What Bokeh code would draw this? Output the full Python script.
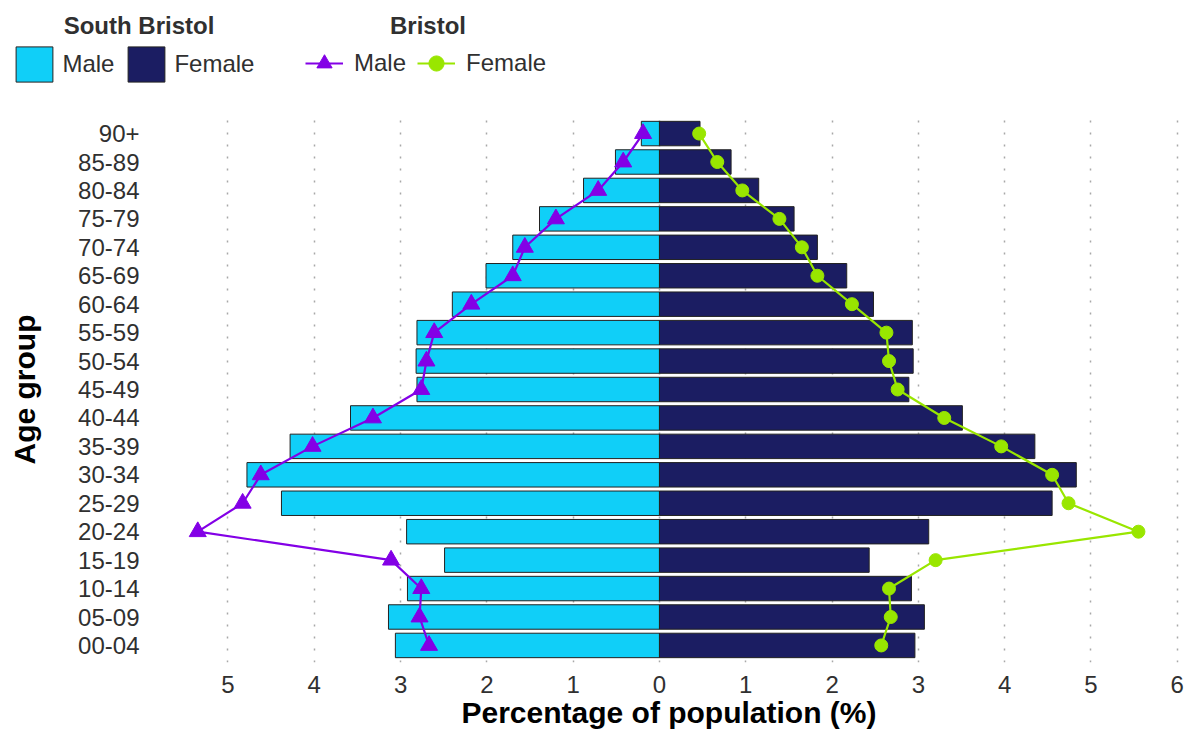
import numpy as np
from bokeh.plotting import figure
from bokeh.layouts import column
from bokeh.models import ColumnDataSource, Range1d, FixedTicker, Legend, LegendItem, Label
from bokeh.embed import file_html
from bokeh.resources import INLINE

# ---- data (bottom to top) ----
age_groups = ["00-04", "05-09", "10-14", "15-19", "20-24", "25-29", "30-34", "35-39",
              "40-44", "45-49", "50-54", "55-59", "60-64", "65-69", "70-74", "75-79",
              "80-84", "85-89", "90+"]
south_bristol_male = [3.06, 3.14, 2.92, 2.49, 2.93, 4.38, 4.78, 4.28, 3.58, 2.81,
                      2.82, 2.81, 2.40, 2.01, 1.70, 1.39, 0.88, 0.51, 0.21]
south_bristol_female = [2.96, 3.07, 2.92, 2.43, 3.12, 4.55, 4.83, 4.35, 3.51, 2.89,
                        2.94, 2.93, 2.48, 2.17, 1.83, 1.56, 1.15, 0.83, 0.47]
bristol_male = [2.67, 2.78, 2.76, 3.11, 5.35, 4.83, 4.62, 4.02, 3.32, 2.76,
                2.70, 2.61, 2.18, 1.70, 1.56, 1.20, 0.71, 0.42, 0.19]
bristol_female = [2.57, 2.68, 2.66, 3.20, 5.55, 4.74, 4.55, 3.96, 3.30, 2.76,
                  2.66, 2.63, 2.23, 1.83, 1.65, 1.39, 0.96, 0.67, 0.46]
x_ticks = [-5, -4, -3, -2, -1, 0, 1, 2, 3, 4, 5, 6]
x_tick_labels = ["5", "4", "3", "2", "1", "0", "1", "2", "3", "4", "5", "6"]

# ---- style ----
FONT = "Liberation Sans"
LIGHT = "#10CFF8"
NAVY = "#1B1D62"
PURPLE = "#8300E6"
GREEN = "#99E600"
EDGE = "#222222"
TXT = "#303030"

W = 1190
LEG_H = 116
MAIN_H = 615

ypos = list(range(1, len(age_groups) + 1))
src = ColumnDataSource(dict(
    y=ypos,
    zero=[0.0] * len(ypos),
    sbm=[-v for v in south_bristol_male],
    sbf=south_bristol_female,
    brm=[-v for v in bristol_male],
    brf=bristol_female,
))

# ---------------- main chart ----------------
p = figure(width=W, height=MAIN_H, output_backend="svg", toolbar_location=None,
           x_range=Range1d(-5.886, 6.107), y_range=Range1d(0.4, 19.6),
           min_border_left=151, min_border_right=4, min_border_top=0,
           min_border_bottom=69)
p.outline_line_color = None
p.frame_align = False

p.hbar(y="y", left="sbm", right="zero", height=0.86, source=src,
       fill_color=LIGHT, line_color=EDGE, line_width=1)
p.hbar(y="y", left="zero", right="sbf", height=0.86, source=src,
       fill_color=NAVY, line_color=EDGE, line_width=1)
p.line(x="brm", y="y", source=src, line_color=PURPLE, line_width=2.2)
p.scatter(x="brm", y="y", source=src, marker="triangle", size=17,
          fill_color=PURPLE, line_color=PURPLE)
p.line(x="brf", y="y", source=src, line_color=GREEN, line_width=2.2)
p.scatter(x="brf", y="y", source=src, marker="circle", size=13,
          fill_color=GREEN, line_color=GREEN)

p.xaxis.ticker = FixedTicker(ticks=x_ticks)
p.xaxis.major_label_overrides = {t: l for t, l in zip(x_ticks, x_tick_labels)}
p.yaxis.ticker = FixedTicker(ticks=ypos)
p.yaxis.major_label_overrides = {y: a for y, a in zip(ypos, age_groups)}
for ax in (p.xaxis, p.yaxis):
    ax.axis_line_color = None
    ax.major_tick_line_color = None
    ax.minor_tick_line_color = None
    ax.major_label_text_font = FONT
    ax.major_label_text_font_size = "24px"
    ax.major_label_text_color = TXT
    ax.axis_label_text_font = FONT
    ax.axis_label_text_font_style = "bold"
    ax.axis_label_text_font_size = "30px"
    ax.axis_label_text_color = "black"
p.xaxis.major_label_standoff = 7
p.yaxis.major_label_standoff = 6
p.xaxis.axis_label = "Percentage of population (%)"
p.xaxis.axis_label_standoff = 0
p.yaxis.axis_label = "Age group"
p.yaxis.axis_label_standoff = 34

p.xgrid.grid_line_color = "#a8a8a8"
p.xgrid.grid_line_dash = "2 10"
p.xgrid.grid_line_width = 1.5
p.ygrid.grid_line_color = None

# ---------------- legend strip ----------------
lg = figure(width=W, height=LEG_H, output_backend="svg", toolbar_location=None,
            x_range=Range1d(0, W), y_range=Range1d(LEG_H, 0),
            min_border=0, x_axis_type=None, y_axis_type=None)
lg.outline_line_color = None
lg.frame_align = False
lg.xgrid.visible = False
lg.ygrid.visible = False

# hidden proxies of the same series, used only for the legend keys
k_m = lg.hbar(y="y", left="sbm", right="zero", height=0.86, source=src,
              fill_color=LIGHT, line_color=EDGE, line_width=1, visible=False)
k_f = lg.hbar(y="y", left="zero", right="sbf", height=0.86, source=src,
              fill_color=NAVY, line_color=EDGE, line_width=1, visible=False)
kl_m = lg.line(x="brm", y="y", source=src, line_color=PURPLE, line_width=2.2, visible=False)
ks_m = lg.scatter(x="brm", y="y", source=src, marker="triangle",
                  fill_color=PURPLE, line_color=PURPLE, visible=False)
kl_f = lg.line(x="brf", y="y", source=src, line_color=GREEN, line_width=2.2, visible=False)
ks_f = lg.scatter(x="brf", y="y", source=src, marker="circle",
                  fill_color=GREEN, line_color=GREEN, visible=False)

common = dict(orientation="horizontal", padding=0, margin=0, border_line_color=None,
              background_fill_alpha=0, label_text_font=FONT,
              label_text_font_size="24px", label_text_color=TXT)
leg1 = Legend(items=[LegendItem(label="Male", renderers=[k_m]),
                     LegendItem(label="Female", renderers=[k_f])],
              location=(11.4, 30.5), glyph_width=46, glyph_height=44,
              label_standoff=5, spacing=9, **common)
leg2 = Legend(items=[LegendItem(label="Male", renderers=[kl_m, ks_m]),
                     LegendItem(label="Female", renderers=[kl_f, ks_f])],
              location=(305, 33), glyph_width=38, glyph_height=40,
              label_standoff=11, spacing=11, **common)
lg.add_layout(leg1)
lg.add_layout(leg2)

lg.add_layout(Label(x=138.5, y=25, text="South Bristol", text_align="center",
                    text_baseline="middle", text_font=FONT, text_font_style="bold",
                    text_font_size="24px", text_color=TXT))
lg.add_layout(Label(x=427.5, y=25, text="Bristol", text_align="center",
                    text_baseline="middle", text_font=FONT, text_font_style="bold",
                    text_font_size="24px", text_color=TXT))

layout = column(lg, p, spacing=0)
open("out.html", "w").write(file_html(layout, INLINE))
